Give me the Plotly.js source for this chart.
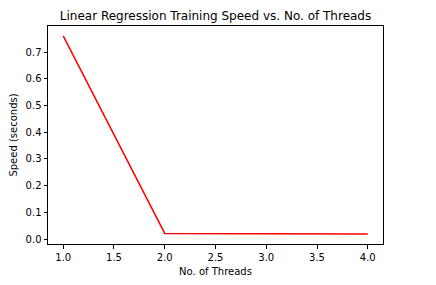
<!DOCTYPE html>
<html>
<head>
<meta charset="utf-8">
<script src="https://cdn.plot.ly/plotly-3.0.1.min.js"></script>
<style>html,body{margin:0;padding:0;background:#fff;}</style>
</head>
<body>
<div id="chart" style="width:436px;height:285px;"></div>
<script>
var threads = [1, 2, 3, 4];
var speed = [0.7615, 0.021, 0.0195, 0.0185];
var xTicks = [1.0, 1.5, 2.0, 2.5, 3.0, 3.5, 4.0];
var yTicks = [0.0, 0.1, 0.2, 0.3, 0.4, 0.5, 0.6, 0.7];

var trace = {
  x: threads, y: speed, type: 'scatter', mode: 'lines',
  line: {color: '#ff0000', width: 1.5}
};
var font = {family: 'DejaVu Sans, sans-serif', size: 10, color: '#000'};
var layout = {
  width: 436, height: 285,
  margin: {l: 48, r: 53, t: 26, b: 41},
  paper_bgcolor: '#fff', plot_bgcolor: '#fff',
  font: font,
  showlegend: false,
  title: {text: 'Linear Regression Training Speed vs. No. of Threads',
          font: {family: 'DejaVu Sans, sans-serif', size: 12, color: '#000'},
          x: 0.5, xref: 'paper', xanchor: 'center', y: 1 - 16/285, yref: 'container', yanchor: 'middle'},
  xaxis: {
    range: [0.85, 4.15], tickvals: xTicks, ticktext: xTicks.map(function(v){return v.toFixed(1);}),
    showgrid: false, zeroline: false, showline: true, mirror: true, linecolor: '#000', linewidth: 1,
    ticks: 'outside', ticklen: 3.5, tickcolor: '#000', tickwidth: 1,
    tickfont: font,
    title: {text: 'No. of Threads', font: font, standoff: 6}
  },
  yaxis: {
    range: [-0.0187, 0.7986], tickvals: yTicks, ticktext: yTicks.map(function(v){return v.toFixed(1);}),
    showgrid: false, zeroline: false, showline: true, mirror: true, linecolor: '#000', linewidth: 1,
    ticks: 'outside', ticklen: 3.5, tickcolor: '#000', tickwidth: 1,
    tickfont: font,
    title: {text: 'Speed (seconds)', font: font, standoff: 6}
  }
};
Plotly.newPlot('chart', [trace], layout, {displayModeBar: false, staticPlot: true});
</script>
</body>
</html>
